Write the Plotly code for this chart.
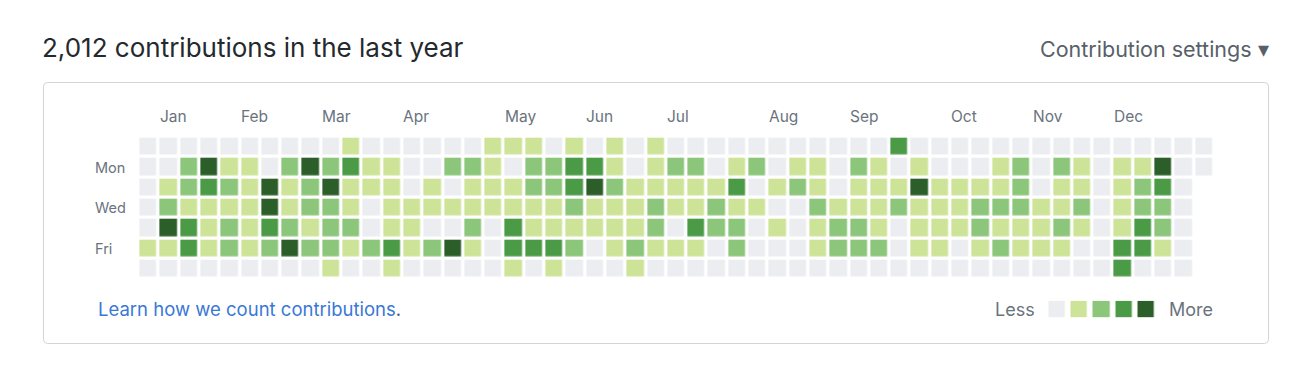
import plotly.graph_objects as go

# ---- data: contribution level (0-4) per weekday row, one value per week column ----
weekdays = ["Sun", "Mon", "Tue", "Wed", "Thu", "Fri", "Sat"]
sun = [0,0,0,0,0,0,0,0,0,0,1,0,0, 0,0,0,0,1,1,1,0,1,0,1,0,1,0, 0,0,0,0,0,0,0,0,0,0,3,0,0, 0,0,0,0,0,0,0,0,0,0,0,0,0]
mon = [0,0,2,4,1,1,0,2,4,2,3,1,1, 0,0,2,2,1,0,2,2,3,3,1,0,1,2, 2,0,1,2,0,1,1,0,2,1,0,1,0, 0,0,1,2,0,2,1,0,1,1,4,0,0]
tue = [0,1,2,3,2,1,4,1,2,4,1,1,1, 0,1,0,1,1,1,2,2,3,4,2,1,1,1, 1,1,3,0,1,2,1,0,1,1,1,4,1, 1,1,1,2,0,1,1,0,1,2,3,0,None]
wed = [0,2,1,1,1,1,4,1,2,2,1,0,1, 1,1,1,1,1,1,1,1,2,1,1,1,2,1, 1,2,1,1,0,0,2,1,1,1,2,1,1, 1,2,2,2,1,1,2,0,1,2,2,0,None]
thu = [0,4,3,1,2,1,3,2,1,2,2,0,1, 1,0,0,2,0,3,1,1,1,1,1,1,2,0, 3,2,2,0,1,0,1,2,2,1,0,1,1, 1,2,1,1,1,2,1,0,1,3,2,0,None]
fri = [1,1,3,1,2,1,2,4,2,2,1,2,3, 1,2,4,1,0,3,3,3,2,0,1,2,1,1, 1,0,2,0,0,0,1,2,2,2,0,1,1, 0,1,2,1,1,1,0,0,3,3,1,0,None]
sat = [0,0,0,0,0,0,0,0,0,1,0,0,1, 0,0,0,0,0,1,0,1,0,0,0,1,0,0, 0,0,0,0,0,0,0,0,0,0,0,0,0, 0,0,0,0,0,0,0,0,3,0,0,0,None]

month_labels = ["Jan", "Feb", "Mar", "Apr", "May", "Jun", "Jul", "Aug", "Sep", "Oct", "Nov", "Dec"]
month_start_week = [1, 5, 9, 13, 18, 22, 26, 31, 35, 40, 44, 48]
day_labels = ["Mon", "Wed", "Fri"]
day_label_rows = [1, 3, 5]
legend_levels = [0, 1, 2, 3, 4]
total_text = "2,012 contributions in the last year"

# ---- styling ----
W, H = 1300, 380
colors = ["#ebedf0", "#cde397", "#8cc67a", "#4a9a46", "#2c5e2a"]
FONT = "Inter, Liberation Sans, sans-serif"

def cscale(cols):
    n = len(cols)
    out = []
    for i, c in enumerate(cols):
        out.append([i / n, c])
        out.append([(i + 1) / n, c])
    return out

def px(x):
    return x / W

def py(y):
    return 1 - y / H

grid = [sun, mon, tue, wed, thu, fri, sat]
ncols = len(sun)
pitch = 20.3
gx0 = 140 - 1.65
gy0 = 138.3 - 1.65

fig = go.Figure()
fig.add_trace(go.Heatmap(
    z=grid, x=list(range(ncols)), y=list(range(7)),
    zmin=-0.5, zmax=4.5, colorscale=cscale(colors), showscale=False,
    xgap=3.3, ygap=3.3, hoverinfo="skip", xaxis="x", yaxis="y"))

lp = 22.2
lx0 = 1049.3 - 2.85
fig.add_trace(go.Heatmap(
    z=[legend_levels], x=list(range(len(legend_levels))), y=[0],
    zmin=-0.5, zmax=4.5, colorscale=cscale(colors), showscale=False,
    xgap=5.7, ygap=0, hoverinfo="skip", xaxis="x2", yaxis="y2"))

fig.update_layout(
    width=W, height=H, margin=dict(l=0, r=0, t=0, b=0),
    paper_bgcolor="white", plot_bgcolor="rgba(0,0,0,0)",
    xaxis=dict(visible=False, range=[-0.5, ncols - 0.5], fixedrange=True,
               domain=[px(gx0), px(gx0 + ncols * pitch)]),
    yaxis=dict(visible=False, range=[6.5, -0.5], fixedrange=True,
               domain=[py(gy0 + 7 * pitch), py(gy0)]),
    xaxis2=dict(visible=False, range=[-0.5, 4.5], fixedrange=True, anchor="y2",
                domain=[px(lx0), px(lx0 + 5 * lp)]),
    yaxis2=dict(visible=False, range=[-0.5, 0.5], fixedrange=True, anchor="x2",
                domain=[py(317.3), py(300.7)]),
    showlegend=False,
)

# rounded box
x0, x1, y0, y1, r = 43.5, 1268.5, 82.5, 343.5, 4
path = (f"M {px(x0+r)},{py(y0)} L {px(x1-r)},{py(y0)} Q {px(x1)},{py(y0)} {px(x1)},{py(y0+r)} "
        f"L {px(x1)},{py(y1-r)} Q {px(x1)},{py(y1)} {px(x1-r)},{py(y1)} "
        f"L {px(x0+r)},{py(y1)} Q {px(x0)},{py(y1)} {px(x0)},{py(y1-r)} "
        f"L {px(x0)},{py(y0+r)} Q {px(x0)},{py(y0)} {px(x0+r)},{py(y0)} Z")
fig.add_shape(type="path", path=path, xref="paper", yref="paper",
              line=dict(color="#d1d5da", width=1), fillcolor="rgba(0,0,0,0)", layer="below")

ann = []
ann.append(dict(text=total_text, x=px(40), y=py(47), xanchor="left", yanchor="middle",
                font=dict(size=26, color="#24292e", family=FONT)))
ann.append(dict(text="Contribution settings \u25BE", x=px(1271), y=py(49), xanchor="right", yanchor="middle",
                font=dict(size=21.5, color="#586069", family=FONT)))
for m, k in zip(month_labels, month_start_week):
    ann.append(dict(text=m, x=k - 0.5, xref="x", y=py(116), yref="paper", xanchor="left",
                    yanchor="middle", xshift=-1, font=dict(size=15.5, color="#6a737d", family=FONT)))
for d, rr in zip(day_labels, day_label_rows):
    ann.append(dict(text=d, x=px(93), xref="paper", y=rr, yref="y", xanchor="left",
                    yanchor="middle", font=dict(size=14.5, color="#6a737d", family=FONT)))
ann.append(dict(text="<span style='color:#3a78d6'>Learn how we count contributions</span>.",
                x=px(96), y=py(309), xanchor="left", yanchor="middle",
                font=dict(size=18.5, color="#586069", family=FONT)))
ann.append(dict(text="Less", x=px(1037), y=py(309), xanchor="right", yanchor="middle",
                font=dict(size=18, color="#6a737d", family=FONT)))
ann.append(dict(text="More", x=px(1167), y=py(309), xanchor="left", yanchor="middle",
                font=dict(size=18, color="#6a737d", family=FONT)))
for a in ann:
    a.setdefault("xref", "paper")
    a.setdefault("yref", "paper")
    a["showarrow"] = False
fig.update_layout(annotations=ann)

fig.write_html("out.html", config={"displayModeBar": False})
